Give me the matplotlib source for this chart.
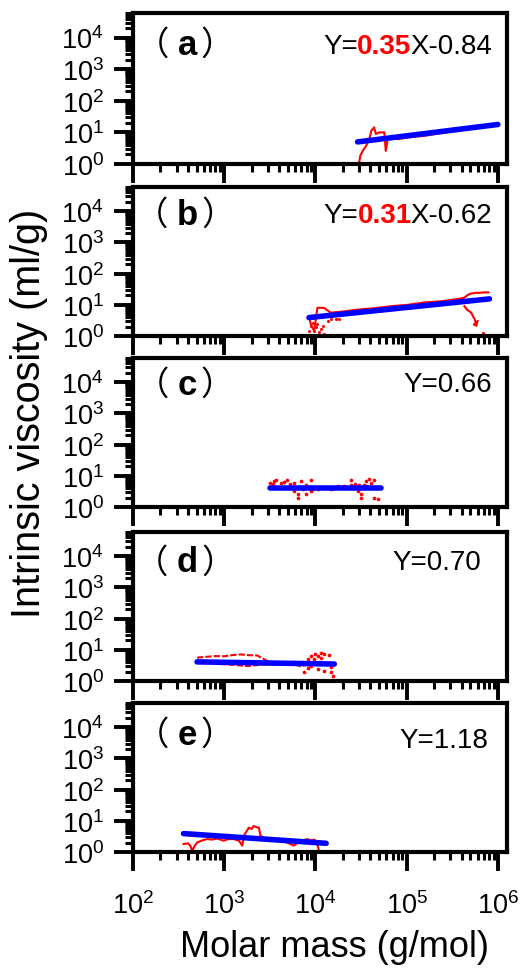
import math
import matplotlib
matplotlib.use('Agg')
import matplotlib.pyplot as plt
from matplotlib.ticker import LogLocator, FuncFormatter, NullFormatter

plt.rcParams['font.family'] = ['Liberation Sans', 'Noto Sans CJK SC']
plt.rcParams['mathtext.fontset'] = 'custom'
plt.rcParams['mathtext.rm'] = 'Liberation Sans'

# ---- data ----
panel_names = ['a', 'b', 'c', 'd', 'e']
eq_left = ['Y=', 'Y=', 'Y=0.66', 'Y=0.70', 'Y=1.18']
eq_slope = ['0.35', '0.31', '', '', '']
eq_right = ['X-0.84', 'X-0.62', '', '', '']

# (a) red trace
a_mw = [3.0e4, 3.1e4, 3.3e4, 3.6e4, 3.9e4, 4.1e4, 4.4e4, 4.6e4, 5.0e4, 5.7e4, 5.9e4,
        6.2e4, 6.8e4, 8.0e4, 1.03e5, 1.58e5, 2.4e5, 3.7e5, 5.6e5, 8.6e5, 9.7e5]
a_iv = [1.0, 1.8, 2.6, 3.8, 6.1, 11.3, 14.4, 8.9, 10, 10, 2.6,
        6.1, 7.8, 6.1, 6.9, 7.8, 9.5, 11.3, 13.4, 16.2, 17.0]
a_fit_mw = [2.9e4, 1.0e6]
a_fit_iv = [5.0, 17.8]

# (b) red trace + scattered points
b_mw = [8.55e3, 9.0e3, 9.7e3, 1.05e4, 1.24e4, 1.47e4, 1.9e4, 2.9e4, 4.4e4, 6.7e4, 1.03e5,
        1.58e5, 2.4e5, 3.7e5, 4.3e5, 4.7e5, 5.1e5, 5.6e5, 5.8e5, 6.1e5, 7.0e5, 7.9e5]
b_iv = [3.9, 2.1, 1.5, 8.0, 8.0, 5.6, 6.0, 7.0, 7.8, 9.0, 10.0,
        12.0, 13.0, 15.5, 17.0, 21.0, 23.0, 24.0, 24.5, 24.0, 25.0, 25.0]
b_dip_mw = [4.3e5, 4.6e5, 5.1e5, 5.4e5, 5.6e5, 5.8e5, 6.0e5]
b_dip_iv = [9.0, 7.0, 5.6, 4.0, 3.4, 2.1, 3.0]
b_pts_mw = [8.9e3, 9.3e3, 9.7e3, 1.01e4, 1.1e4, 1.15e4, 1.2e4, 1.25e4, 1.36e4, 1.48e4,
            1.67e4, 1.83e4, 5.5e5, 6.9e5, 8.6e3, 1.05e4]
b_pts_iv = [2.1, 2.7, 1.5, 1.9, 1.3, 1.7, 2.1, 1.16, 3.0, 3.4,
            3.6, 3.4, 2.5, 1.24, 1.4, 2.4]
b_fit_mw = [8.5e3, 8.1e5]
b_fit_iv = [3.9, 15.5]

# (c) scattered points
c_mw = [3.2e3, 3.5e3, 3.7e3, 4.2e3, 4.9e3, 5.8e3, 6.4e3, 6.4e3, 6.9e3, 7.9e3, 8.9e3, 8.9e3,
        1.06e4, 1.25e4, 1.48e4, 1.75e4, 2.08e4, 2.46e4, 2.46e4, 2.9e4, 3.2e4, 3.2e4, 3.6e4,
        3.6e4, 4.1e4, 4.4e4, 4.4e4, 4.8e4, 5.8e3, 7.9e3, 3.4e3, 4.5e3, 5.2e3, 6.0e3, 7.3e3,
        8.2e3, 9.5e3, 1.15e4, 1.35e4, 1.6e4, 1.9e4, 2.2e4, 2.7e4, 3.0e4, 3.4e4, 3.9e4, 4.2e4]
c_iv = [6.0, 6.8, 7.1, 6.0, 7.1, 6.0, 2.6, 2.0, 6.8, 5.1, 7.1, 3.3,
        3.7, 4.2, 3.7, 4.7, 4.7, 5.1, 7.1, 3.3, 2.6, 2.0, 6.8,
        4.7, 6.0, 7.1, 2.0, 1.8, 3.3, 2.6, 5.6, 6.4, 5.4, 4.0, 3.8,
        4.4, 3.9, 4.0, 4.3, 4.1, 4.5, 4.3, 5.6, 4.9, 5.2, 7.8, 4.4]
c_fit_mw = [3.2e3, 5.3e4]
c_fit_iv = [4.2, 4.2]

# (d) upper trace, lower trace, scattered points
d_up_mw = [504, 650, 800, 990, 1.25e3, 1.51e3, 1.9e3, 2.3e3, 2.8e3, 3.3e3]
d_up_iv = [5.6, 6.0, 6.3, 6.2, 6.8, 7.1, 6.7, 6.6, 4.8, 3.8]
d_lo_mw = [900, 1.1e3, 1.4e3, 1.8e3, 2.2e3, 2.8e3, 3.5e3, 4.4e3, 5.4e3, 6.9e3, 8.0e3]
d_lo_iv = [3.5, 3.4, 3.2, 3.0, 3.2, 3.4, 3.4, 3.3, 3.5, 3.0, 3.3]
d_pts_mw = [7.5e3, 8.2e3, 8.9e3, 9.7e3, 1.06e4, 1.15e4, 1.25e4, 1.36e4, 1.48e4, 1.55e4,
            8.2e3, 1.06e4, 1.25e4, 9.0e3, 1.15e4, 1.4e4, 1.5e4, 1.0e4]
d_pts_iv = [1.9, 2.7, 6.3, 4.9, 2.4, 8.0, 7.1, 3.9, 1.9, 1.5,
            5.0, 6.5, 2.1, 3.0, 5.5, 6.8, 2.8, 7.5]
d_fit_mw = [504, 1.61e4]
d_fit_iv = [4.1, 3.5]

# (e) red trace
e_mw = [358, 400, 425, 446, 470, 504, 560, 650, 740, 835, 990, 1.1e3, 1.27e3, 1.45e3, 1.58e3,
        1.64e3, 1.75e3, 1.86e3, 2.0e3, 2.1e3, 2.25e3, 2.4e3, 2.5e3, 2.75e3, 3.0e3, 3.4e3,
        3.8e3, 4.3e3, 4.9e3, 5.8e3, 6.4e3, 6.9e3, 8.2e3, 9.0e3, 9.7e3, 1.02e4, 1.06e4, 1.1e4]
e_iv = [1.8, 1.9, 1.6, 1.1, 1.5, 2.0, 2.3, 2.6, 2.5, 2.7, 2.3, 2.6, 2.6, 2.3, 1.6,
        3.3, 4.5, 6.0, 5.5, 6.8, 6.3, 6.0, 3.3, 2.9, 2.6, 2.8,
        2.7, 2.4, 2.0, 1.6, 2.0, 2.3, 2.6, 2.3, 2.5, 2.2, 1.6, 1.0]
e_fit_mw = [358, 1.31e4]
e_fit_iv = [3.9, 1.9]

RED = '#ff0000'
BLUE = '#0000ff'

fig = plt.figure(figsize=(5.22, 9.70), dpi=100)
W, H = 522, 970
tops = [14, 188, 359, 533, 704]
bottoms = [165, 337, 508, 682, 853]
left, right = 133, 507

label_pos = [(0.145, 0.79), (0.145, 0.815), (0.145, 0.825), (0.145, 0.80), (0.145, 0.79)]
eq_pos = [(0.96, 0.78), (0.96, 0.81), (0.96, 0.825), (0.932, 0.80), (0.95, 0.75)]


def decade(v, p):
    return r'$\mathregular{10^{%d}}$' % round(math.log10(v))


axes = []
for i in range(5):
    ax = fig.add_axes([left / W, 1 - bottoms[i] / H, (right - left) / W,
                       (bottoms[i] - tops[i]) / H])
    ax.set_xscale('log')
    ax.set_yscale('log')
    ax.set_xlim(100, 1.26e6)
    ax.set_ylim(1, 6e4)
    for sp in ax.spines.values():
        sp.set_linewidth(3)
    ax.xaxis.set_major_locator(LogLocator(base=10, numticks=10))
    ax.xaxis.set_minor_locator(LogLocator(base=10, subs=range(2, 10), numticks=20))
    ax.yaxis.set_major_locator(LogLocator(base=10, numticks=10))
    ax.yaxis.set_minor_locator(LogLocator(base=10, subs=range(2, 10), numticks=20))
    ax.yaxis.set_major_formatter(FuncFormatter(decade))
    ax.yaxis.set_minor_formatter(NullFormatter())
    ax.xaxis.set_minor_formatter(NullFormatter())
    if i == 4:
        ax.xaxis.set_major_formatter(FuncFormatter(decade))
    else:
        ax.xaxis.set_major_formatter(NullFormatter())
    ax.tick_params(which='major', direction='out', length=14, width=2.8,
                   labelsize=19.5, top=False, right=False)
    ax.tick_params(which='minor', direction='out', length=6, width=2.2,
                   top=False, right=False)
    ax.tick_params(axis='y', which='major', pad=7)
    ax.tick_params(axis='x', which='major', pad=14)
    axes.append(ax)

ax_a, ax_b, ax_c, ax_d, ax_e = axes

ax_a.plot(a_mw, a_iv, color=RED, lw=1.5)
ax_a.plot(a_fit_mw, a_fit_iv, color=BLUE, lw=4, solid_capstyle='round')

ax_b.plot(b_mw, b_iv, color=RED, lw=1.5)
ax_b.plot(b_dip_mw, b_dip_iv, color=RED, lw=1.5)
ax_b.scatter(b_pts_mw, b_pts_iv, color=RED, s=5, lw=0)
ax_b.plot(b_fit_mw, b_fit_iv, color=BLUE, lw=4, solid_capstyle='round')

ax_c.scatter(c_mw, c_iv, color=RED, s=7, lw=0)
ax_c.plot(c_fit_mw, c_fit_iv, color=BLUE, lw=4, solid_capstyle='round')

ax_d.plot(d_up_mw, d_up_iv, color=RED, lw=1.5, ls=(0, (3, 1)))
ax_d.plot(d_lo_mw, d_lo_iv, color=RED, lw=1.5, ls=(0, (3, 1)))
ax_d.scatter(d_pts_mw, d_pts_iv, color=RED, s=7, lw=0)
ax_d.plot(d_fit_mw, d_fit_iv, color=BLUE, lw=4, solid_capstyle='round')

ax_e.plot(e_mw, e_iv, color=RED, lw=1.5)
ax_e.plot(e_fit_mw, e_fit_iv, color=BLUE, lw=4, solid_capstyle='round')

for i, ax in enumerate(axes):
    # panel letter with full-width brackets
    lx, ly = label_pos[i]
    t = ax.text(lx, ly, panel_names[i], transform=ax.transAxes, fontsize=25,
                fontweight='bold', va='center', ha='center')
    ax.annotate('（', xy=(0, 0.5), xycoords=t, xytext=(-6, 0), textcoords='offset points',
                fontsize=24, family=['Noto Sans CJK SC'], va='center', ha='right')
    ax.annotate('）', xy=(1, 0.5), xycoords=t, xytext=(2.5, 0), textcoords='offset points',
                fontsize=24, family=['Noto Sans CJK SC'], va='center', ha='left')
    # fit equation
    ex, ey = eq_pos[i]
    if eq_slope[i]:
        r = ax.text(ex, ey, eq_right[i], transform=ax.transAxes, fontsize=20,
                    va='center', ha='right')
        m = ax.annotate(eq_slope[i], xy=(0, 0), xycoords=r, xytext=(1, 0),
                        textcoords='offset points', fontsize=20, color=RED,
                        fontweight='bold', va='bottom', ha='right')
        ax.annotate(eq_left[i], xy=(0, 0), xycoords=m, xytext=(0.5, 0),
                    textcoords='offset points', fontsize=20, va='bottom', ha='right')
    else:
        ax.text(ex, ey, eq_left[i], transform=ax.transAxes, fontsize=20,
                va='center', ha='right')

fig.text(0.056, 0.574, 'Intrinsic viscosity (ml/g)', rotation=90, fontsize=28.5,
         va='center', ha='center')
fig.text(0.64, 0.023, 'Molar mass (g/mol)', fontsize=26, va='center', ha='center')

fig.savefig('out.png', dpi=100)
